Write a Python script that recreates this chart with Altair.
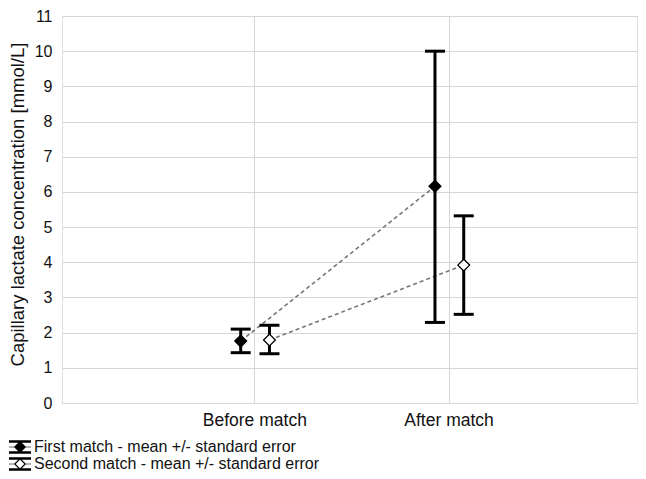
import json
import altair as alt
import pandas as pd

# ---- data ----
categories = ["Before match", "After match"]
series_names = ["First match", "Second match"]
first_mean = [1.76, 6.16]
first_low = [1.43, 2.29]
first_high = [2.10, 10.0]
second_mean = [1.79, 3.92]
second_low = [1.40, 2.52]
second_high = [2.21, 5.32]
legend_labels = [
    "First match - mean +/- standard error",
    "Second match - mean +/- standard error",
]
y_ticks = list(range(0, 12))

rows = []
for s, means, lows, highs in [
    (series_names[0], first_mean, first_low, first_high),
    (series_names[1], second_mean, second_low, second_high),
]:
    for i, c in enumerate(categories):
        rows.append({"series": s, "category": c, "idx": i,
                     "mean": means[i], "low": lows[i], "high": highs[i]})
df = pd.DataFrame(rows)
legend_df = pd.DataFrame({"label": legend_labels, "series": series_names})

FONT = "Liberation Sans"
label_expr = json.dumps(categories) + "[datum.value - 1]"

xaxis = alt.Axis(values=[1, 2], labelExpr=label_expr, title=None, grid=True,
                 gridColor="#d6d6d6", ticks=False, domain=False,
                 labelFontSize=17.5, labelPadding=8, labelColor="#111",
                 labelFont=FONT, labelOverlap=False)
xscale = alt.Scale(domain=[0.01, 2.97], nice=False, zero=False)
yscale = alt.Scale(domain=[0, 11], nice=False, zero=True)
yaxis = alt.Axis(values=y_ticks, tickCount=len(y_ticks), grid=True,
                 gridColor="#d6d6d6",
                 ticks=False, domain=False, labelFontSize=16, labelPadding=10,
                 labelColor="#111", labelFont=FONT, labelOverlap=False,
                 labelFlush=False,
                 title="Capillary lactate concentration [mmol/L]",
                 titleFont=FONT, titleFontSize=18.5, titleFontWeight="normal",
                 titleColor="#111", titleX=-35, titleY=188,
                 titleAlign="center", titleBaseline="bottom")


def X():
    return alt.X("xpos:Q", scale=xscale, axis=xaxis)


def Y(field):
    return alt.Y(field, scale=yscale, axis=yaxis)


fill_scale = alt.Scale(domain=series_names, range=["black", "white"])

base = alt.Chart(df).transform_calculate(
    xpos="datum.idx + 1 + (datum.series === '%s' ? -0.07 : 0.078)" % series_names[0]
)

lines = base.mark_line(color="#777", strokeDash=[4, 3], strokeWidth=1.6).encode(
    x=X(), y=Y("mean:Q"), detail="series:N",
)
bars = base.mark_rule(color="black", strokeWidth=3).encode(
    x=X(), y=Y("low:Q"), y2="high:Q"
)
caps = base.transform_fold(["low", "high"], as_=["bound", "val"]).mark_point(
    shape="stroke", size=400, strokeWidth=3, color="black", filled=False, opacity=1
).encode(x=X(), y=Y("val:Q"))
diamonds = base.mark_point(
    shape="diamond", size=140, filled=True, stroke="black", strokeWidth=1.3, opacity=1
).encode(
    x=X(), y=Y("mean:Q"),
    fill=alt.Fill("series:N", scale=fill_scale, legend=None),
)

main = alt.layer(lines, bars, caps, diamonds)

# ---- hand-built legend below the plot ----
ly = alt.Y("label:N", scale=alt.Scale(type="point", domain=legend_labels,
                                      range=[431, 448], padding=0), axis=None)
lbase = alt.Chart(legend_df)
l_dash = lbase.mark_point(shape="M-1,0H-0.5M0.5,0H1", size=484, stroke="#666",
                          strokeWidth=1.2, filled=False, opacity=1).encode(
    x=alt.value(-42), y=ly)
l_icon = lbase.mark_point(shape="M-1,-0.5H1M0,-0.5V0.5M-1,0.5H1", size=484,
                          stroke="black", strokeWidth=2.5, filled=False,
                          opacity=1).encode(x=alt.value(-42), y=ly)
l_diam = lbase.mark_point(shape="diamond", size=110, filled=True, stroke="black",
                          strokeWidth=1.2, opacity=1).encode(
    x=alt.value(-42), y=ly,
    fill=alt.Fill("series:N", scale=fill_scale, legend=None))
l_text = lbase.mark_text(align="left", baseline="middle", fontSize=16,
                         font=FONT, color="#111").encode(
    x=alt.value(-28), y=ly, text="label:N")
legend = alt.layer(l_dash, l_icon, l_diam, l_text)

chart = alt.layer(main, legend).resolve_scale(y="independent").properties(
    width=575, height=387,
    autosize=alt.AutoSizeParams(type="none"),
    padding={"left": 54, "top": 8, "right": 1, "bottom": 68},
).configure_view(stroke="#555", strokeWidth=1.5).configure(background="white")

chart.save("out.html", embed_options={"renderer": "svg", "actions": False})
